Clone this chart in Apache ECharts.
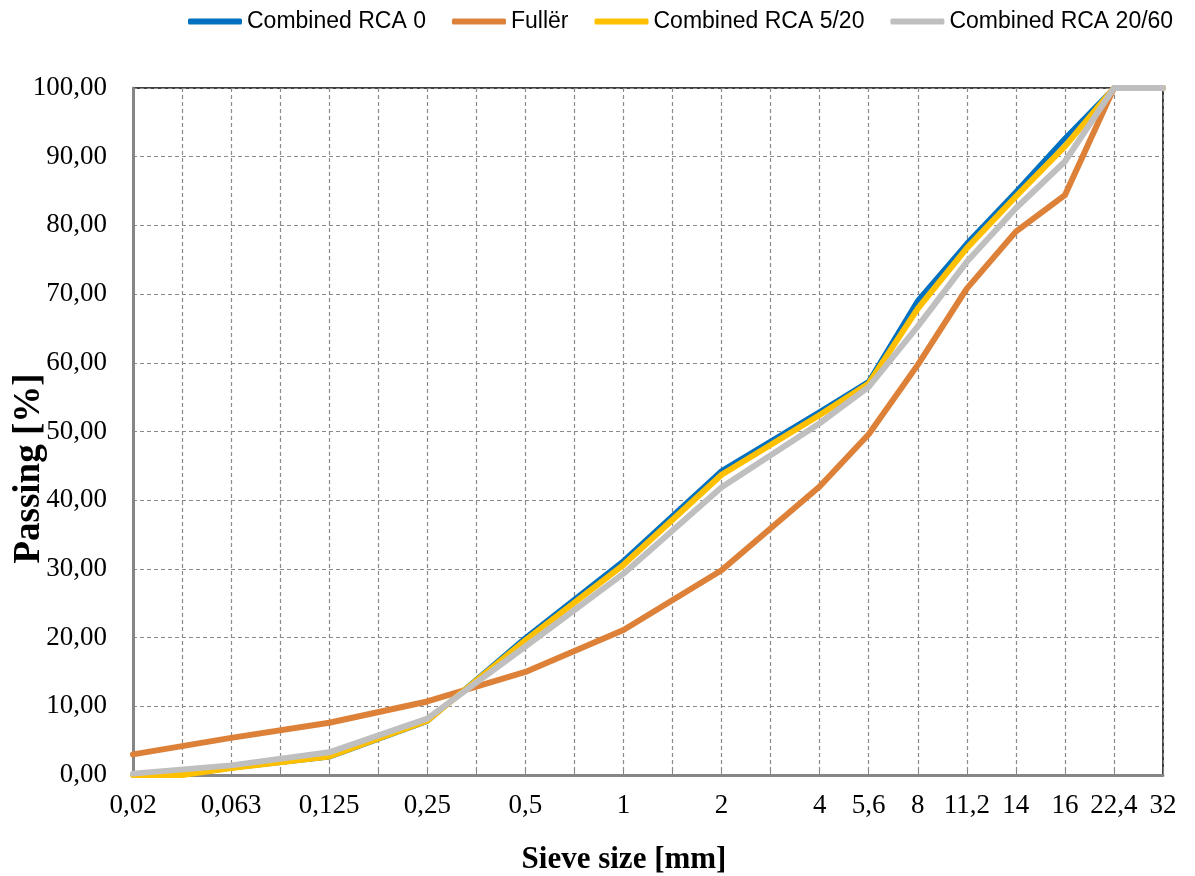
<!DOCTYPE html>
<html>
<head>
<meta charset="utf-8">
<script src="https://cdn.jsdelivr.net/npm/echarts@6/dist/echarts.min.js"></script>
<style>html,body{margin:0;padding:0;background:#fff;}#c{width:1195px;height:876px;}</style>
</head>
<body>
<div id="c"></div>
<script>
// Sieve sizes (blank entries are unlabeled category slots)
var categories = ['0,02','','0,063','','0,125','','0,25','','0,5','','1','','2','','4','5,6','8','11,2','14','16','22,4','32'];
var seriesNames = ['Combined RCA 0','Fullër','Combined RCA 5/20','Combined RCA 20/60'];
var rca0   = [0, 0, 1.0, null, 2.6, null, 7.8, null, 20.0, null, 31.2, null, 44.3, null, 52.9, 57.3, 69.1, 77.4, 84.9, 92.7, 100, 100];
var fuller = [3.0, null, 5.4, null, 7.6, null, 10.7, null, 15.0, null, 21.1, null, 29.8, null, 42.0, 49.6, 59.7, 70.8, 79.1, 84.4, 100, 100];
var rca520 = [0, 0, 1.0, null, 2.7, null, 7.9, null, 19.6, null, 30.6, null, 43.7, null, 52.4, 57.0, 67.9, 76.7, 84.2, 91.5, 100, 100];
var rca2060= [0.2, null, 1.4, null, 3.3, null, 8.2, null, 18.7, null, 29.3, null, 41.9, null, 51.2, 56.5, 65.3, 74.7, 82.5, 89.3, 100, 100];
var yTicks = {min: 0, max: 100, interval: 10};

var colors = ['#0070C0', '#DD8139', '#FFC000', '#BFBFBF'];
var serifFont = "'Liberation Serif', 'Times New Roman', serif";
var legendFont = "'Liberation Sans', Arial, sans-serif";

var chart = echarts.init(document.getElementById('c'), null, {renderer: 'canvas'});
var dataSets = [rca0, fuller, rca520, rca2060];
chart.setOption({
  animation: false,
  color: colors,
  legend: {
    data: seriesNames, left: 188, top: 10, padding: 0, itemGap: 26,
    icon: 'roundRect', itemWidth: 54, itemHeight: 6,
    textStyle: {fontFamily: legendFont, fontSize: 23, color: '#000'}
  },
  grid: {left: 133, right: 32, top: 88, bottom: 101, show: true, borderColor: '#000', borderWidth: 1.5,
         backgroundColor: 'transparent', containLabel: false, outerBoundsMode: 'none'},
  xAxis: {
    type: 'category', data: categories, boundaryGap: false,
    name: 'Sieve size [mm]', nameLocation: 'middle', nameGap: 69, nameMoveOverlap: false,
    nameTextStyle: {fontFamily: serifFont, fontSize: 31, fontWeight: 'bold', color: '#000', padding: [0, 48, 0, 0]},
    axisLine: {lineStyle: {color: '#868686', width: 3}},
    axisTick: {show: true, inside: true, length: 6, interval: 0, lineStyle: {color: '#868686', width: 1}},
    axisLabel: {interval: 0, margin: 17, fontFamily: serifFont, fontSize: 27, color: '#000'},
    splitLine: {show: true, interval: 0, lineStyle: {color: '#8a8a8a', type: [4, 3], width: 1.2}}
  },
  yAxis: {
    type: 'value', min: yTicks.min, max: yTicks.max, interval: yTicks.interval,
    name: 'Passing [%]', nameLocation: 'middle', nameGap: 85, nameMoveOverlap: false,
    nameTextStyle: {fontFamily: serifFont, fontSize: 37, fontWeight: 'bold', color: '#000', padding: [0, 74, 0, 0]},
    axisLine: {show: true, lineStyle: {color: '#868686', width: 3}},
    axisTick: {show: false},
    axisLabel: {margin: 26, fontFamily: serifFont, fontSize: 27, color: '#000',
      formatter: function (v) { return v.toFixed(2).replace('.', ','); }},
    splitLine: {show: true, lineStyle: {color: '#8a8a8a', type: [4, 3], width: 1.2}}
  },
  series: dataSets.map(function (d, i) {
    return {
      name: seriesNames[i], type: 'line', data: d, connectNulls: true,
      symbol: 'none', showSymbol: false,
      lineStyle: {width: i === 0 ? 5 : 6, color: colors[i], cap: 'round', join: 'round'},
      itemStyle: {color: colors[i]}, z: 2 + i
    };
  })
});
</script>
</body>
</html>
